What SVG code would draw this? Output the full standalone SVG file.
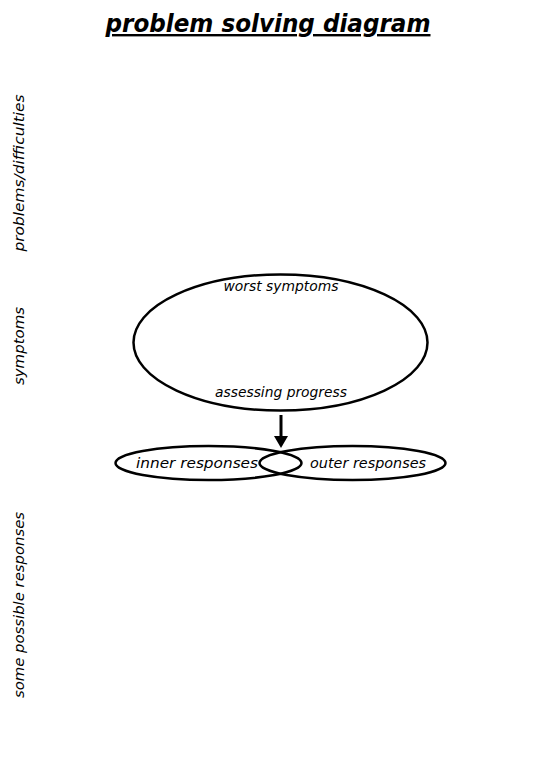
<svg xmlns="http://www.w3.org/2000/svg" width="540" height="780" viewBox="0 0 540 780">
<style>
.lbl{font-family:"DejaVu Sans","Liberation Sans",sans-serif;font-style:italic;font-size:14px;fill:#000}
.shape{fill:none;stroke:#000;stroke-width:2.5}
</style>
<rect width="540" height="780" fill="#fff"/>
<g id="title">
<text x="268" y="32" text-anchor="middle" font-family="DejaVu Sans, Liberation Sans, sans-serif" font-weight="bold" font-style="italic" font-size="24" text-decoration="underline" textLength="325" lengthAdjust="spacingAndGlyphs">problem solving diagram</text>
</g>
<g id="side-labels">
<text class="lbl" transform="translate(24,173) rotate(-90)" text-anchor="middle" textLength="157" lengthAdjust="spacingAndGlyphs">problems/difficulties</text>
<text class="lbl" transform="translate(24,346) rotate(-90)" text-anchor="middle" textLength="78" lengthAdjust="spacingAndGlyphs">symptoms</text>
<text class="lbl" transform="translate(24,605) rotate(-90)" text-anchor="middle" textLength="186" lengthAdjust="spacingAndGlyphs">some possible responses</text>
</g>
<g id="symptoms-node">
<ellipse class="shape" cx="280.5" cy="342.5" rx="147" ry="68"/>
<text class="lbl" x="281" y="291" text-anchor="middle" textLength="115" lengthAdjust="spacingAndGlyphs">worst symptoms</text>
<text class="lbl" x="281" y="397" text-anchor="middle" textLength="132" lengthAdjust="spacingAndGlyphs">assessing progress</text>
</g>
<g id="inner-node">
<ellipse class="shape" cx="208.5" cy="463" rx="93" ry="17"/>
<text class="lbl" x="197" y="468" text-anchor="middle" textLength="122" lengthAdjust="spacingAndGlyphs">inner responses</text>
</g>
<g id="outer-node">
<ellipse class="shape" cx="352.5" cy="463" rx="93" ry="17"/>
<text class="lbl" x="368" y="468" text-anchor="middle" textLength="116" lengthAdjust="spacingAndGlyphs">outer responses</text>
</g>
<g id="connectors">
<line x1="281" y1="415" x2="281" y2="438" stroke="#000" stroke-width="3"/>
<path d="M274,436 L288,436 L281,448 Z" fill="#000"/>
</g>
</svg>
